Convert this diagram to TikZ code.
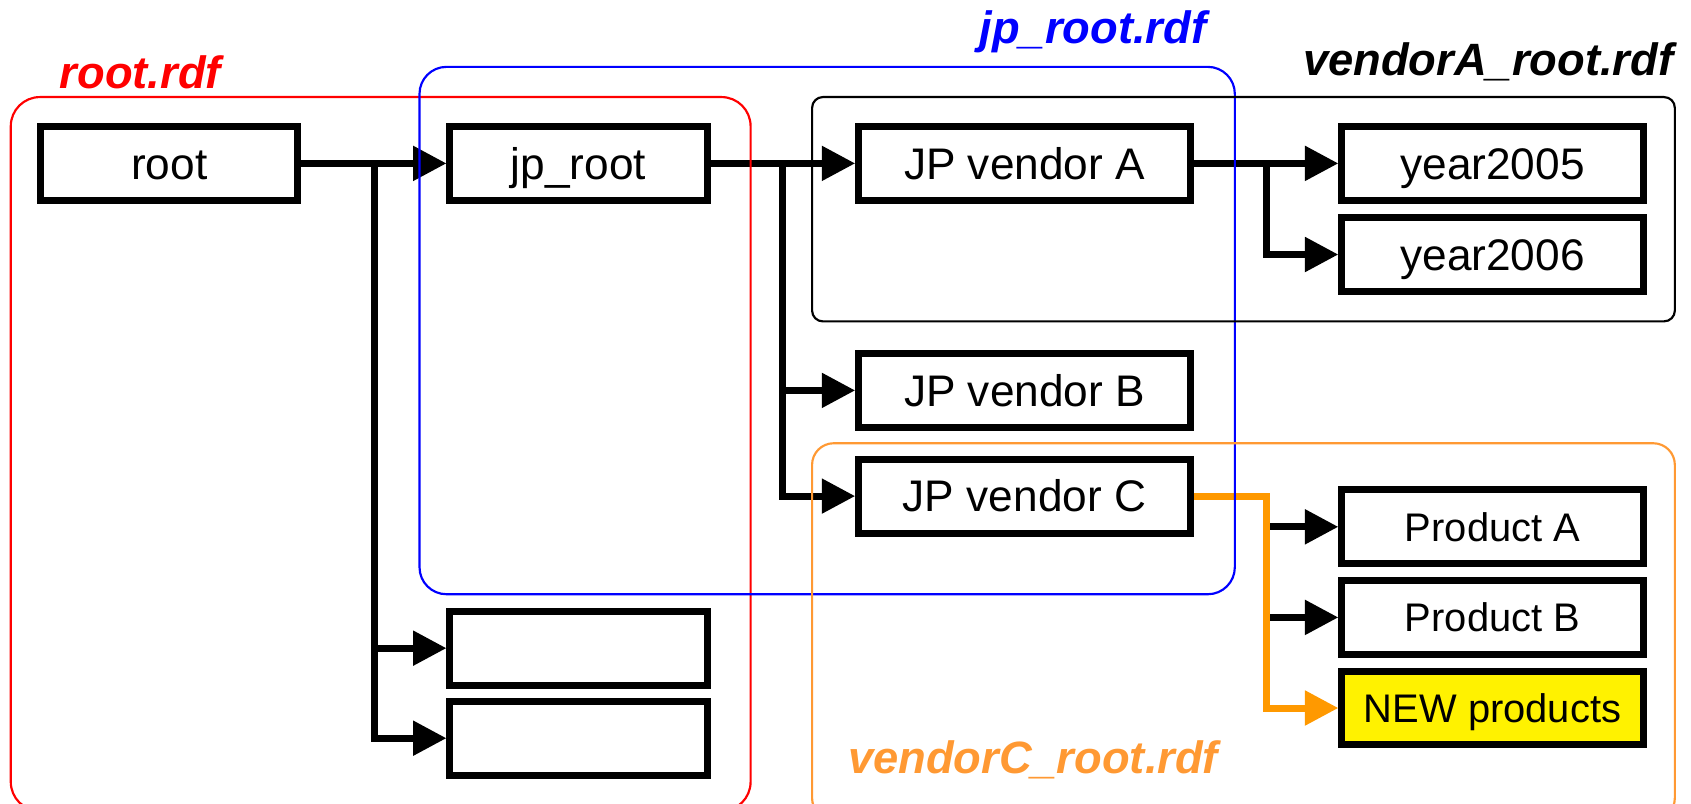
\documentclass[tikz,border=0pt]{standalone}
\usepackage{fontspec}
\setmainfont{Liberation Sans}
\usetikzlibrary{arrows.meta}
\definecolor{lineorange}{HTML}{FF9900}
\definecolor{lblorange}{HTML}{FF9933}
\begin{document}
\begin{tikzpicture}[x=0.5pt,y=-0.5pt,
  box/.style={draw=black,line width=3.25pt,inner sep=0pt,minimum height=34.25pt,text height=14.7pt,text depth=0pt,font=\fontsize{20.5}{24}\selectfont},
  lbox/.style={box,minimum width=119.25pt},
  vbox/.style={box,minimum width=153.75pt},
  rbox/.style={box,minimum width=139.75pt},
  pbox/.style={rbox,text height=13.2pt,font=\fontsize{18.5}{22}\selectfont},
  conn/.style={line width=3.25pt,-{Triangle[length=15.5pt,width=15.5pt]}},
  oconn/.style={conn,draw=lineorange},
  frame/.style={line width=1pt},
  lbl/.style={anchor=base west,inner sep=0pt,font=\fontsize{21}{24}\selectfont\bfseries\itshape}
]
\useasboundingbox (0,0) rectangle (1568,744.6);

% boxes
\node[lbox] (root) at (157,151.5) {root};
\node[lbox] (jp) at (536.5,151.5) {jp\_root};
\node[lbox] (e1) at (536.5,601) {};
\node[lbox] (e2) at (536.5,684.5) {};
\node[vbox] (va) at (950,151.5) {JP vendor A};
\node[vbox] (vb) at (950,362) {JP vendor B};
\node[vbox] (vc) at (950,460) {JP vendor C};
\node[rbox] (y5) at (1384,151.5) {year2005};
\node[rbox] (y6) at (1384,236) {year2006};
\node[pbox] (pa) at (1384,488.5) {Product A};
\node[pbox] (pb) at (1384,572.5) {Product B};
\node[pbox,fill=yellow] (na) at (1384,656.5) {NEW products};

% branch points
\coordinate (b1) at (347,0);
\coordinate (b2) at (726,0);
\coordinate (b3) at (1174,0);

% connectors
\draw[conn] (root.east) -- (jp.west);
\draw[conn] (root.east -| b1) |- (e1.west);
\draw[conn] (root.east -| b1) |- (e2.west);
\draw[conn] (jp.east) -- (va.west);
\draw[conn] (jp.east -| b2) |- (vb.west);
\draw[conn] (jp.east -| b2) |- (vc.west);
\draw[conn] (va.east) -- (y5.west);
\draw[conn] (va.east -| b3) |- (y6.west);
\draw[conn] (pa.west -| b3) -- (pa.west);
\draw[conn] (pb.west -| b3) -- (pb.west);
\draw[oconn] (vc.east) -| (b3 |- na.west) -- (na.west);

% frames
\draw[frame,red,rounded corners=13.5pt] (10,90) rectangle (696,752);
\draw[frame,blue,rounded corners=12.5pt] (389,62) rectangle (1145,551);
\draw[frame,black,rounded corners=5pt] (753,90) rectangle (1553,298);
\draw[frame,lblorange,rounded corners=10pt] (753,411) rectangle (1553,760);

% labels
\node[lbl,red] (lroot) at (55,82) {root.rdf};
\node[lbl,blue] (ljp) at (908,40) {jp\_root.rdf};
\node[lbl,black] (lva) at (1208,70) {vendorA\_root.rdf};
\node[lbl,lblorange] (lvc) at (786,717) {vendorC\_root.rdf};
\end{tikzpicture}
\end{document}
